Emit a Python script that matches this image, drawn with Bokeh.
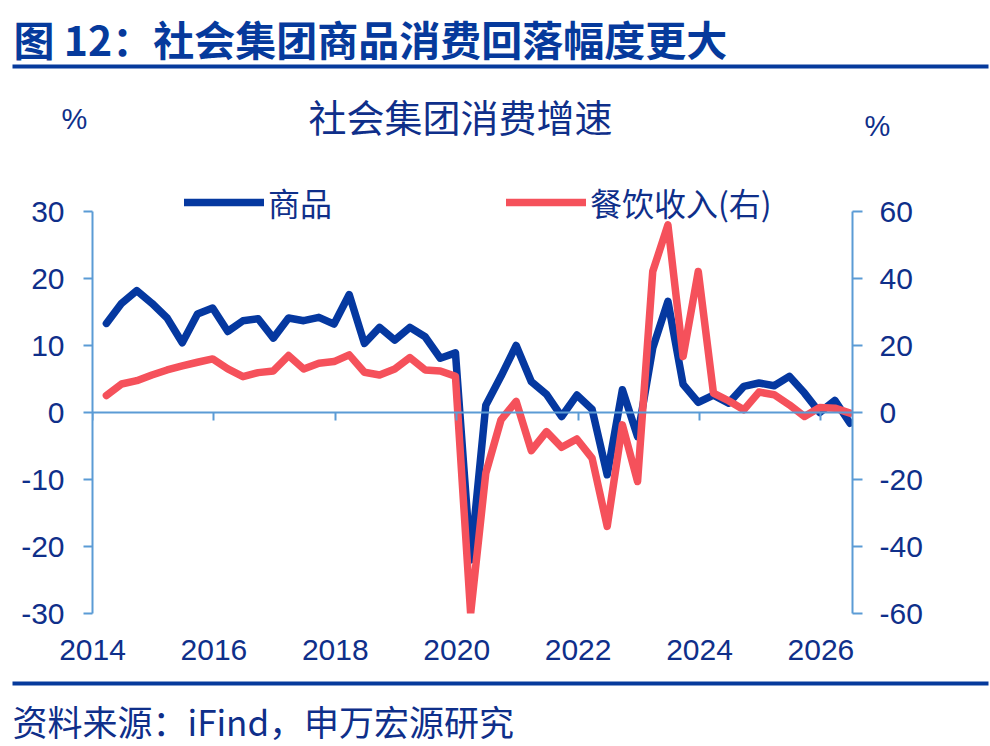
from bokeh.plotting import figure
from bokeh.models import (Range1d, LinearAxis, FixedTicker, Legend,
                          LegendItem, NumeralTickFormatter)
from bokeh.core.properties import value
from bokeh.embed import file_html
from bokeh.resources import INLINE

# ---------------- data ----------------
quarters = [f"{y}Q{q}" for y in range(2014, 2027) for q in range(1, 5)][:50]

goods = [13.3, 16.3, 18.2, 16.3, 14.1, 10.4, 14.7, 15.6, 12.1, 13.7,
         14.0, 11.1, 14.1, 13.7, 14.2, 13.2, 17.6, 10.3, 12.7, 10.8,
         12.7, 11.3, 8.1, 8.9,
         -22.0, 1.1, 5.4, 10.0, 4.6, 2.7,
         -0.6, 2.6, 0.5, -9.3, 3.4, -3.6, 9.6, 16.6, 4.2, 1.5,
         2.6, 1.4, 3.9, 4.4, 4.0, 5.4, 2.9, 0.0, 1.8, -1.6]

catering = [5.1, 8.5, 9.5, 11.2, 12.7, 13.9, 15.0, 16.0, 13.0, 10.7,
            11.9, 12.4, 17.0, 13.0, 14.7, 15.2, 17.2, 12.0, 11.2, 13.0,
            16.4, 12.7, 12.4, 10.8,
            -60.0, -18.1, -2.2, 3.3, -11.4, -5.7,
            -10.4, -7.9, -13.6, -34.0, -3.7, -20.6, 42.1, 56.0, 16.7, 42.1,
            5.8, 3.5, 0.8, 6.1, 5.3, 2.3, -1.2, 1.5, 1.3, -0.2]

year_ticks = [2014, 2016, 2018, 2020, 2022, 2024, 2026]
left_ticks = [-30, -20, -10, 0, 10, 20, 30]
right_ticks = [-60, -40, -20, 0, 20, 40, 60]

heading = "图 12：社会集团商品消费回落幅度更大"
chart_title = "社会集团消费增速"
source_text = "资料来源：iFind，申万宏源研究"
goods_name = "商品"
catering_name = "餐饮收入(右)"
unit_text = "%"

# quarter label -> position on the year axis (end month of quarter)
x = [int(s[:4]) + (3 * int(s[5]) - 0.25) / 12 for s in quarters]

# ---------------- layout ----------------
W, H = 990, 746
FRAME_L, FRAME_R, FRAME_T, FRAME_B = 92, 852, 170, 613
TOP_TICK_PIX = 211          # pixel row of the 30 / 60 ticks
X0, X1 = 2014, 2026.52
L0, L1 = left_ticks[0], left_ticks[-1]
R0, R1 = right_ticks[0], right_ticks[-1]

ppx = (FRAME_R - FRAME_L) / (X1 - X0)
ppy = (FRAME_B - TOP_TICK_PIX) / (L1 - L0)
y_end = L1 + (TOP_TICK_PIX - FRAME_T) / ppy
r_end = R1 + (TOP_TICK_PIX - FRAME_T) / (ppy * (L1 - L0) / (R1 - R0))

def px_x(X):
    return X0 + (X - FRAME_L) / ppx

def px_y(Y):
    return L0 + (FRAME_B - Y) / ppy

# ---------------- style ----------------
NAVY = "#0F2F8A"
HEAD = "#063A9C"
AXIS = "#5B9BD5"
BLUE = "#0538A0"
RED = "#F5515B"
CJK = "Noto Sans CJK SC"
LAT = "Liberation Sans"

p = figure(width=W, height=H, output_backend="svg", toolbar_location=None,
           x_range=Range1d(X0, X1), y_range=Range1d(L0, y_end),
           min_border_left=FRAME_L, min_border_right=W - FRAME_R,
           min_border_top=FRAME_T, min_border_bottom=H - FRAME_B)
p.extra_y_ranges = {"right": Range1d(R0, r_end)}
p.outline_line_color = None
p.grid.visible = False
p.background_fill_color = "white"
p.border_fill_color = "white"

# bottom axis: labels only
xa = p.xaxis[0]
xa.ticker = FixedTicker(ticks=year_ticks)
xa.formatter = NumeralTickFormatter(format="0")
xa.axis_line_color = None
xa.major_tick_line_color = None
xa.minor_tick_line_color = None
xa.major_tick_out = 0
xa.major_tick_in = 0
xa.major_label_standoff = 26
xa.major_label_text_font = LAT
xa.major_label_text_font_size = "30px"
xa.major_label_text_color = NAVY

# zero line axis with ticks pointing down
za = LinearAxis(ticker=FixedTicker(ticks=year_ticks), fixed_location=0,
                axis_line_color=AXIS, axis_line_width=2,
                major_tick_line_color=AXIS, major_tick_line_width=2,
                major_tick_in=8, major_tick_out=0,
                minor_tick_line_color=None,
                major_label_overrides={t: "" for t in year_ticks})
p.add_layout(za, "above")

# left axis
ya = p.yaxis[0]
ya.ticker = FixedTicker(ticks=left_ticks)
ya.formatter = NumeralTickFormatter(format="0")
ya.bounds = (L0, L1)
ya.axis_line_color = AXIS
ya.axis_line_width = 2
ya.major_tick_line_color = AXIS
ya.major_tick_line_width = 2
ya.major_tick_out = 9
ya.major_tick_in = 0
ya.minor_tick_line_color = None
ya.major_label_standoff = 19
ya.major_label_text_font = LAT
ya.major_label_text_font_size = "30px"
ya.major_label_text_color = NAVY

# right axis
ra = LinearAxis(y_range_name="right", ticker=FixedTicker(ticks=right_ticks),
                formatter=NumeralTickFormatter(format="0"), bounds=(R0, R1),
                axis_line_color=AXIS, axis_line_width=2,
                major_tick_line_color=AXIS, major_tick_line_width=2,
                major_tick_out=10, major_tick_in=0,
                minor_tick_line_color=None, major_label_standoff=17,
                major_label_text_font=LAT, major_label_text_font_size="30px",
                major_label_text_color=NAVY)
p.add_layout(ra, "right")

r1 = p.line(x, goods, line_color=BLUE, line_width=7.5,
            line_join="round", line_cap="round")
r2 = p.line(x, catering, y_range_name="right", line_color=RED, line_width=7.5,
            line_join="round", line_cap="round")

legend = Legend(items=[LegendItem(label=goods_name, renderers=[r1]),
                       LegendItem(label=catering_name, renderers=[r2])],
                orientation="horizontal", location=(184 - FRAME_L, FRAME_B - 225),
                label_text_font=CJK, label_text_font_size="32px",
                label_text_color=NAVY, glyph_width=80, glyph_height=40,
                label_height=40, label_width=238, label_standoff=4,
                spacing=0, padding=0, margin=0,
                border_line_color=None, background_fill_alpha=0)
p.add_layout(legend)

def txt(text, X, Y, size, align="left", font=CJK, color=NAVY, style="normal"):
    p.text(x=[px_x(X)], y=[px_y(Y)], text=[text], text_font=value(font),
           text_font_size=value(size), text_color=color, text_align=align,
           text_baseline="middle", text_font_style=style, level="overlay")

txt(heading, 13, 37, "41px", color=HEAD, style="bold")
txt(chart_title, 460, 115, "38px", align="center")
txt(unit_text, 74, 118, "29px", align="center", font=LAT)
txt(unit_text, 877, 125, "29px", align="center", font=LAT)
txt(source_text, 12, 720, "35px")

for Y in (66, 683):
    p.segment(x0=[px_x(12)], y0=[px_y(Y)], x1=[px_x(988)], y1=[px_y(Y)],
              line_color=HEAD, line_width=4, level="overlay")

open("out.html", "w").write(file_html(p, INLINE))
